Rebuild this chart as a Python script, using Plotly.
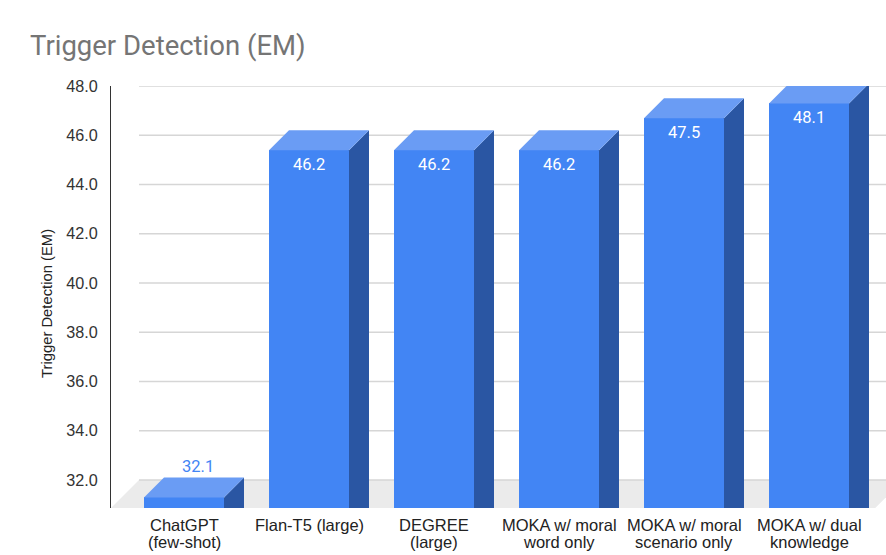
import plotly.graph_objects as go

categories = ["ChatGPT\n(few-shot)", "Flan-T5 (large)", "DEGREE\n(large)",
              "MOKA w/ moral\nword only", "MOKA w/ moral\nscenario only",
              "MOKA w/ dual\nknowledge"]
values = [32.1, 46.2, 46.2, 46.2, 47.5, 48.1]
y_ticks = [32, 34, 36, 38, 40, 42, 44, 46, 48]
title_text = "Trigger Detection (EM)"
y_title = "Trigger Detection (EM)"

FRONT = "#4285F4"
SIDE = "#2A56A3"
TOP = "#6A9CF4"
FLOOR = "#EBEBEB"
GRID = "#D6D6D6"
SANS = "Liberation Sans, Arial"

# geometry (in axis units)
X_MIN, X_MAX = -0.584, 5.616
Y_MIN, Y_MAX = 30.863, 48.0
HALF_W = 0.32
BAR_DX = 0.16          # depth shift of bars (x units)
BAR_DY = 0.81          # depth shift of bars (value units)
FLOOR_DX = 0.224
FLOOR_DY = 1.137
FLOOR_RIGHT = 5.53

idx = list(range(len(values)))

fig = go.Figure()
fig.add_trace(go.Bar(
    x=idx, y=[v - BAR_DY - Y_MIN for v in values], base=Y_MIN,
    width=2 * HALF_W, marker=dict(color=FRONT, line=dict(width=0)),
    hoverinfo="skip", showlegend=False,
))

shapes = []
# floor
shapes.append(dict(type="path", xref="x", yref="y", layer="below",
                   path=f"M {X_MIN},{Y_MIN} L {X_MIN+FLOOR_DX},{Y_MIN+FLOOR_DY} "
                        f"L {FLOOR_RIGHT+FLOOR_DX},{Y_MIN+FLOOR_DY} L {FLOOR_RIGHT},{Y_MIN} Z",
                   fillcolor=FLOOR, line=dict(width=0)))
# gridlines on back wall
for t in y_ticks:
    shapes.append(dict(type="line", xref="x", yref="y", layer="below",
                       x0=X_MIN + FLOOR_DX, x1=X_MAX + 0.5, y0=t, y1=t,
                       line=dict(color=GRID, width=1.3)))
# side and top faces
for i, v in zip(idx, values):
    xl, xr = i - HALF_W, i + HALF_W
    yf = v - BAR_DY
    shapes.append(dict(type="path", xref="x", yref="y", layer="above",
                       path=f"M {xr},{Y_MIN} L {xr},{yf} L {xr+BAR_DX},{v} L {xr+BAR_DX},{Y_MIN} Z",
                       fillcolor=SIDE, line=dict(width=0)))
    shapes.append(dict(type="path", xref="x", yref="y", layer="above",
                       path=f"M {xl},{yf} L {xl+BAR_DX},{v} L {xr+BAR_DX},{v} L {xr},{yf} Z",
                       fillcolor=TOP, line=dict(width=0)))

annotations = []
for i, v in zip(idx, values):
    if v - Y_MIN > 3:
        annotations.append(dict(x=i, y=v - BAR_DY, xref="x", yref="y",
                                text=f"{v:.1f}", showarrow=False, yanchor="middle",
                                yshift=-14,
                                font=dict(family="Roboto", size=16.5, color="white")))
    else:
        annotations.append(dict(x=i + 0.11, y=v, xref="x", yref="y",
                                text=f"{v:.1f}", showarrow=False, yanchor="middle",
                                yshift=11,
                                font=dict(family="Roboto", size=16.5, color=FRONT)))
# category labels (two tight lines each)
for i, cat in zip(idx, categories):
    for k, line in enumerate(cat.split("\n")):
        annotations.append(dict(x=i, y=0, xref="x", yref="paper", text=line,
                                showarrow=False, yanchor="middle", xanchor="center",
                                yshift=-17 - 17 * k,
                                font=dict(family=SANS, size=16.5, color="#222222")))
annotations.append(dict(x=(37 - 111) / 775, y=1 - (304 - 86) / 422, xref="paper", yref="paper",
                        text=y_title, textangle=-90, showarrow=False,
                        font=dict(family=SANS, size=14.8, color="#222222")))

fig.update_layout(
    width=886, height=555,
    margin=dict(l=111, r=0, t=86, b=47),
    paper_bgcolor="white", plot_bgcolor="white",
    title=dict(text=title_text, x=30 / 886, xref="container", xanchor="left",
               y=1 - 45 / 555, yref="container", yanchor="middle",
               font=dict(family="Roboto", size=27.5, color="#757575")),
    bargap=0,
    shapes=shapes, annotations=annotations,
    xaxis=dict(range=[X_MIN, X_MAX], tickvals=idx, showticklabels=False,
               showgrid=False, zeroline=False, showline=False, ticks="",
               fixedrange=True),
    yaxis=dict(range=[Y_MIN, Y_MAX], tickvals=y_ticks,
               ticktext=[f"{t:.1f}" for t in y_ticks],
               showgrid=False, zeroline=False, showline=True, linecolor="#333333",
               linewidth=1, ticks="", ticklabelstandoff=9,
               tickfont=dict(family=SANS, size=16.2, color="#333333"),
               fixedrange=True),
)

fig.write_html("out.html")
